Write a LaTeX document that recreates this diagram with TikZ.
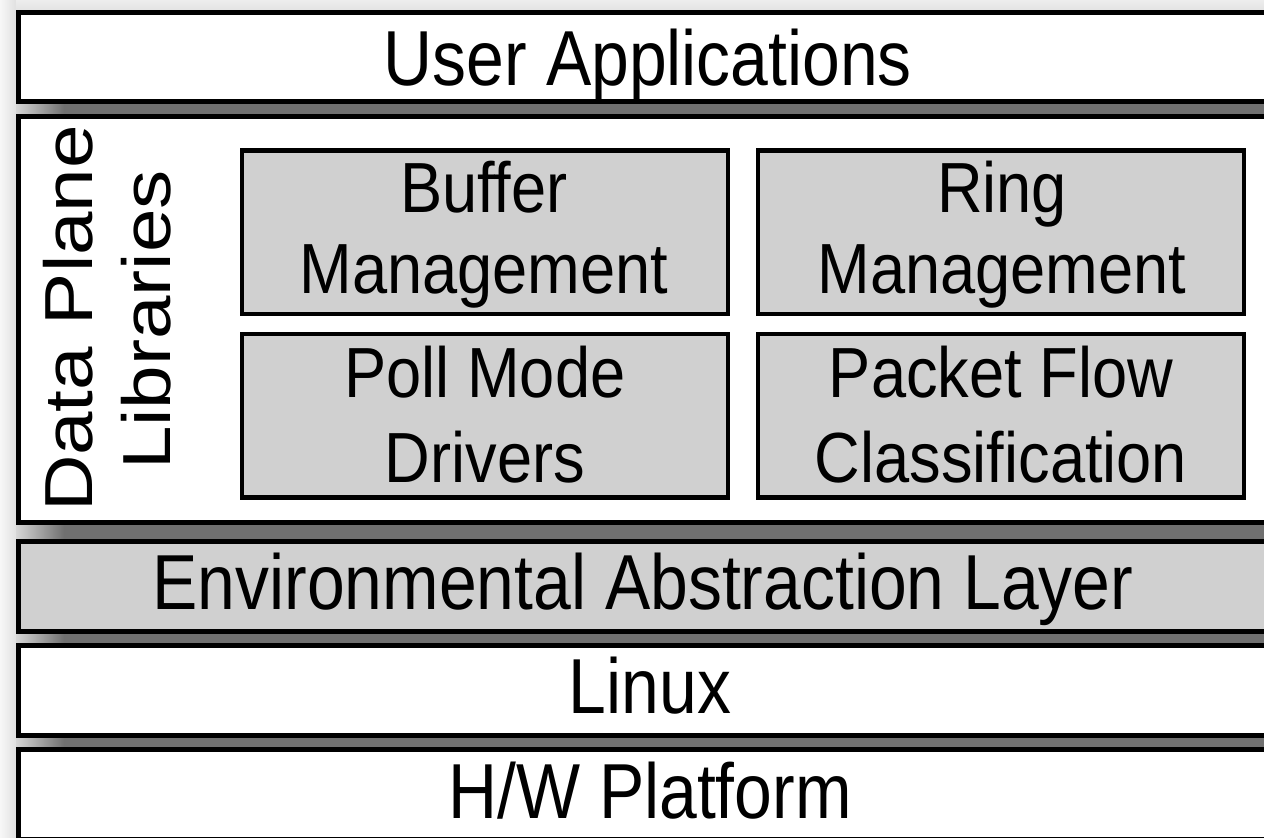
\documentclass[tikz,border=0pt]{standalone}
\usepackage{fontspec}
\setmainfont{Liberation Sans}
\newfontfamily\outerfont[FakeStretch=0.87]{Liberation Sans}
\newfontfamily\innerfont[FakeStretch=0.89]{Liberation Sans}
\newfontfamily\rotfont[FakeStretch=1.15]{Liberation Sans}
\definecolor{boxgray}{HTML}{D0D0D0}
\definecolor{shadowgray}{HTML}{707070}
\definecolor{edgegray}{HTML}{D6D6D6}
\begin{document}
\begin{tikzpicture}[x=1pt,y=-1pt,
  layer/.style={draw=black, line width=5pt, inner sep=0pt, minimum width=1261.5pt, minimum height=89.5pt},
  ibox/.style={draw=black, line width=4.5pt, fill=boxgray, inner sep=0pt, minimum width=486pt, minimum height=163.5pt},
  otext/.style={font=\outerfont\fontsize{78}{80}\selectfont, anchor=base, inner sep=0pt},
  itext/.style={font=\innerfont\fontsize{71}{75}\selectfont, anchor=base, inner sep=0pt},
  rtext/.style={font=\rotfont\fontsize{68}{70}\selectfont, rotate=90, anchor=base, inner sep=0pt},
  gapband/.style={fill=shadowgray}]
\useasboundingbox (0,0) rectangle (1264,838);
\clip (0,0) rectangle (1264,838);
\fill[white] (0,0) rectangle (1264,838);
% page edge and drop shadows
\shade[left color=gray!6, right color=gray!24] (0,0) rectangle (16,838);
\shade[top color=gray!14, bottom color=gray!22] (16,0) rectangle (1264,10);
\fill[gapband] (16,104) rectangle (1264,114);
\fill[gapband] (16,525) rectangle (1264,539);
\fill[gapband] (16,634) rectangle (1264,643);
\fill[gapband] (16,738) rectangle (1264,747);
\shade[left color=edgegray, right color=shadowgray] (16,104) rectangle (64,114);
\shade[left color=edgegray, right color=shadowgray] (16,525) rectangle (64,539);
\shade[left color=edgegray, right color=shadowgray] (16,634) rectangle (64,643);
\shade[left color=edgegray, right color=shadowgray] (16,738) rectangle (64,747);
% layers
\node[layer, fill=white] (ua) at (649.25,57) {};
\node[layer, fill=white, minimum height=406pt] (dpl) at (649.25,319.5) {};
\node[layer, fill=boxgray] (eal) at (649.25,586.5) {};
\node[layer, fill=white] (linux) at (649.25,690.5) {};
\node[layer, fill=white] (hw) at (649.25,794.5) {};
% inner library boxes
\node[ibox] (buf) at (485,232) {};
\node[ibox] (ring) at (1001,232) {};
\node[ibox] (pmd) at (485,415.5) {};
\node[ibox] (pfc) at (1001,415.5) {};
% texts
\node[otext] (uat) at (648,85) {User Applications};
\node[rtext] (dplt1) at (92,318.5) {Data Plane};
\node[rtext] (dplt2) at (170,320) {Libraries};
\node[itext] (buft1) at (484,212) {Buffer};
\node[itext] (buft2) at (484,293) {Management};
\node[itext] (ringt1) at (1002,212) {Ring};
\node[itext] (ringt2) at (1002,293) {Management};
\node[itext] (pmdt1) at (485,397) {Poll Mode};
\node[itext] (pmdt2) at (485,482) {Drivers};
\node[itext] (pfct1) at (1001,397) {Packet Flow};
\node[itext] (pfct2) at (1001,482) {Classification};
\node[otext] (ealt) at (643,609) {Environmental Abstraction Layer};
\node[otext] (linuxt) at (650,713) {Linux};
\node[otext] (hwt) at (650,818) {H/W Platform};
\end{tikzpicture}
\end{document}
